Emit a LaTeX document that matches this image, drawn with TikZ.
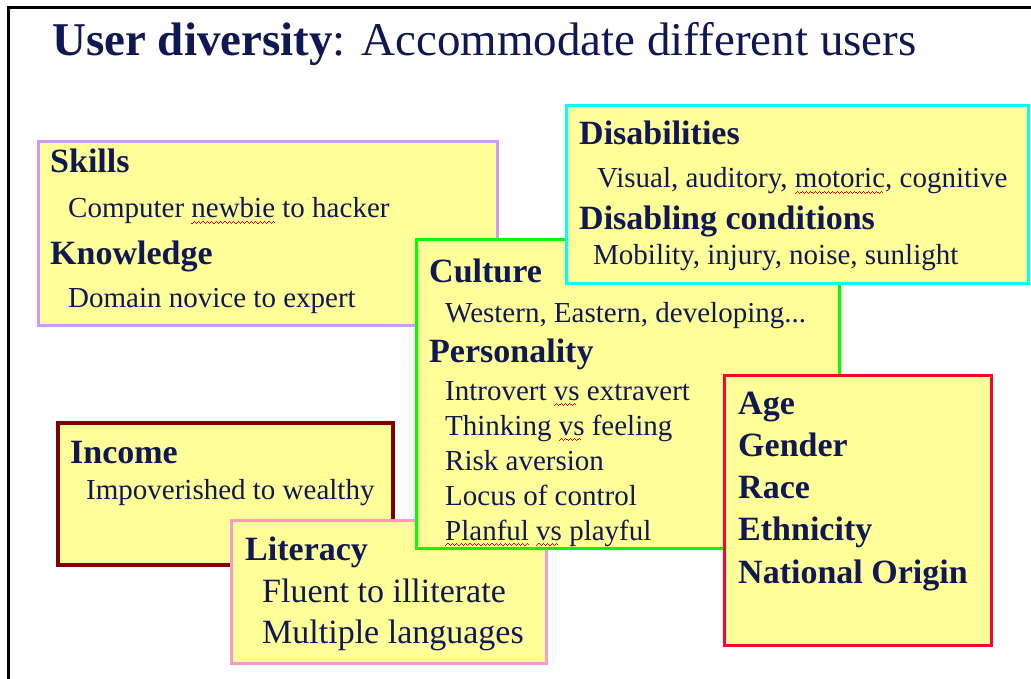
\documentclass[tikz,border=0pt]{standalone}
\usepackage{fontspec}
\setmainfont{Liberation Serif}
\usetikzlibrary{positioning}
\definecolor{ink}{RGB}{16,24,84}
\definecolor{paper}{RGB}{255,255,153}
\definecolor{lavender}{RGB}{204,153,255}
\definecolor{aqua}{RGB}{0,255,255}
\definecolor{lime}{RGB}{0,255,0}
\definecolor{maroon}{RGB}{128,0,0}
\definecolor{rose}{RGB}{255,153,204}
\definecolor{scarlet}{RGB}{255,0,51}
% spell checker marks
\newcommand\spellwave{\hbox{\rule[-5.6pt]{1.1pt}{.8pt}\rule[-4.8pt]{1.1pt}{.8pt}\rule[-4pt]{1.1pt}{.8pt}\rule[-4.8pt]{1.1pt}{.8pt}}}
\newcommand\spellmark[1]{\setbox0=\hbox{#1}\rlap{\hbox to\wd0{\color{red}\leaders\spellwave\hfill}}#1}
\tikzset{
  card/.style={draw=#1,line width=3pt,fill=paper,anchor=north west,inner sep=0pt},
  head/.style={anchor=base west,inner sep=0pt,text=ink,font=\fontsize{34}{34}\selectfont\bfseries},
  item/.style={anchor=base west,inner sep=0pt,text=ink,font=\fontsize{29}{29}\selectfont},
  bigitem/.style={item,font=\fontsize{34}{34}\selectfont},
}
\begin{document}
\begin{tikzpicture}[x=1pt,y=-1pt]
\useasboundingbox (0,0) rectangle (1031,679);
\draw[line width=3pt] (8,679) |- (1031,8);
\node[anchor=base west,inner sep=0pt,text=ink,font=\fontsize{47}{47}\selectfont] (title) at (52,56)
  {\textbf{User diversity}: Accommodate different users};
% skills
\node[card=lavender,minimum width=459pt,minimum height=184pt] (skills) at (37,140) {};
\node[head] (skillsT) at ([shift={(13,33)}]skills.north west) {Skills};
\node[item] (skillsD) at ([shift={(31,78)}]skills.north west) {Computer \spellmark{newbie} to hacker};
\node[head] (knowT) at ([shift={(13,125)}]skills.north west) {Knowledge};
\node[item] (knowD) at ([shift={(31,167)}]skills.north west) {Domain novice to expert};
% income
\node[card=maroon,line width=4pt,minimum width=335pt,minimum height=142pt] (income) at (56,421) {};
\node[head] (incomeT) at ([shift={(14,42)}]income.north west) {Income};
\node[item] (incomeD) at ([shift={(30,78)}]income.north west) {Impoverished to wealthy};
% literacy
\node[card=rose,minimum width=315pt,minimum height=143pt] (literacy) at (230,519) {};
\node[head] (literacyT) at ([shift={(15,41)}]literacy.north west) {Literacy};
\node[bigitem] (fluent) at ([shift={(32,83)}]literacy.north west) {Fluent to illiterate};
\node[bigitem] (langs) at ([shift={(32,124)}]literacy.north west) {Multiple languages};
% culture
\node[card=lime,minimum width=423pt,minimum height=309pt] (culture) at (415,238) {};
\node[head] (cultureT) at ([shift={(14,45)}]culture.north west) {Culture};
\node[item] (cultureD) at ([shift={(30,84)}]culture.north west) {Western, Eastern, developing...};
\node[head] (persT) at ([shift={(14,124)}]culture.north west) {Personality};
\foreach \t [count=\i from 0] in {{Introvert \spellmark{vs} extravert},{Thinking \spellmark{vs} feeling},Risk aversion,Locus of control,{\spellmark{Planful} \spellmark{vs} playful}}
  \node[item] (pers\i) at ([shift={(30,162+35*\i)}]culture.north west) {\t};
% disabilities
\node[card=aqua,minimum width=462pt,minimum height=178pt] (disab) at (565,104) {};
\node[head] (disabT) at ([shift={(14,41)}]disab.north west) {Disabilities};
\node[item] (disabD) at ([shift={(32,84)}]disab.north west) {Visual, auditory, \spellmark{motoric}, cognitive};
\node[head] (condT) at ([shift={(14,126)}]disab.north west) {Disabling conditions};
\node[item] (condD) at ([shift={(28,161)}]disab.north west) {Mobility, injury, noise, sunlight};
% demographics
\node[card=scarlet,minimum width=267pt,minimum height=270pt] (demo) at (723,374) {};
\foreach \t [count=\i from 0] in {Age,Gender,Race,Ethnicity,National Origin}
  \node[head] (demo\i) at ([shift={(15,40+42.25*\i)}]demo.north west) {\t};
\end{tikzpicture}
\end{document}
